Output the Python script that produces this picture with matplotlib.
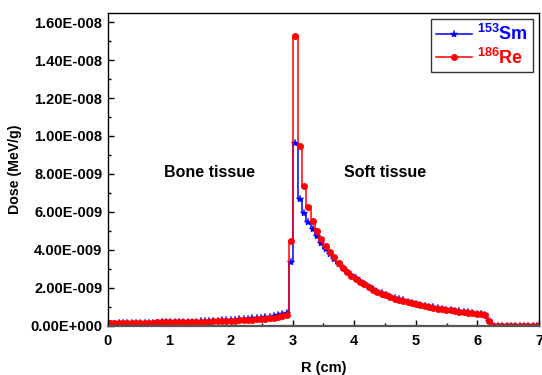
import numpy as np
import matplotlib
matplotlib.use('Agg')
import matplotlib.pyplot as plt
from matplotlib.ticker import FuncFormatter, MultipleLocator

plt.rcParams['font.family'] = ['Liberation Sans', 'DejaVu Sans']
plt.rcParams['font.weight'] = 'bold'
plt.rcParams['mathtext.fontset'] = 'custom'
plt.rcParams['mathtext.rm'] = 'Liberation Sans:bold'
plt.rcParams['mathtext.bf'] = 'Liberation Sans:bold'
plt.rcParams['mathtext.default'] = 'bf'

# 100 bins of 0.07 cm from 0 to 7 cm, dose in units of 1e-9 MeV/g
bin_width = 0.07
n_bins = 100

re_dose = [
    0.14, 0.14, 0.15, 0.15, 0.15, 0.16, 0.16, 0.16, 0.17, 0.17,
    0.17, 0.18, 0.18, 0.19, 0.19, 0.20, 0.20, 0.20, 0.21, 0.21,
    0.22, 0.22, 0.23, 0.23, 0.24, 0.25, 0.25, 0.26, 0.27, 0.28,
    0.29, 0.30, 0.31, 0.32, 0.34, 0.36, 0.38, 0.40, 0.43, 0.46,
    0.50, 0.55, 4.47, 15.26, 9.47, 7.38, 6.28, 5.53, 5.00, 4.56,
    4.23, 3.91, 3.61, 3.30, 3.04, 2.84, 2.64, 2.48, 2.33, 2.18,
    2.04, 1.91, 1.79, 1.69, 1.60, 1.51, 1.44, 1.38, 1.32, 1.26,
    1.20, 1.15, 1.10, 1.05, 1.00, 0.95, 0.91, 0.88, 0.84, 0.81,
    0.78, 0.75, 0.72, 0.69, 0.66, 0.63, 0.60, 0.57, 0.27, 0.0,
    0.0, 0.0, 0.0, 0.0, 0.0, 0.0, 0.0, 0.0, 0.0, 0.0,
]

sm_dose = [
    0.12, 0.12, 0.13, 0.13, 0.14, 0.14, 0.15, 0.15, 0.16, 0.16,
    0.17, 0.17, 0.18, 0.18, 0.19, 0.19, 0.20, 0.21, 0.21, 0.22,
    0.23, 0.24, 0.25, 0.26, 0.27, 0.28, 0.29, 0.30, 0.31, 0.33,
    0.34, 0.36, 0.37, 0.39, 0.41, 0.43, 0.45, 0.48, 0.51, 0.55,
    0.61, 0.70, 3.35, 9.65, 6.67, 5.96, 5.49, 5.10, 4.74, 4.38,
    4.05, 3.78, 3.52, 3.28, 3.05, 2.86, 2.67, 2.50, 2.35, 2.20,
    2.06, 1.93, 1.81, 1.71, 1.62, 1.53, 1.46, 1.40, 1.34, 1.28,
    1.22, 1.17, 1.12, 1.07, 1.02, 0.97, 0.93, 0.89, 0.86, 0.83,
    0.80, 0.77, 0.74, 0.71, 0.68, 0.65, 0.62, 0.59, 0.28, 0.0,
    0.0, 0.0, 0.0, 0.0, 0.0, 0.0, 0.0, 0.0, 0.0, 0.0,
]

r_centers = (np.arange(n_bins) + 0.5) * bin_width
re_dose = np.array(re_dose) * 1e-9
sm_dose = np.array(sm_dose) * 1e-9


def sci_fmt(v, pos):
    if v == 0:
        return '0.00E+000'
    e = int(np.floor(np.log10(abs(v))))
    m = v / 10**e
    sign = '+' if e >= 0 else '-'
    return f'{m:.2f}E{sign}{abs(e):03d}'


fig = plt.figure(figsize=(5.42, 3.75), dpi=100)
ax = fig.add_axes([0.199, 0.131, 0.7955, 0.834])

ax.plot(r_centers, sm_dose, drawstyle='steps-mid', color='#0000ff', lw=1.1,
        marker='*', markersize=6, markeredgewidth=0.3, label=r'$^{153}$Sm')
ax.plot(r_centers, re_dose, drawstyle='steps-mid', color='#ff0000', lw=1.1,
        marker='o', markersize=5, markeredgewidth=0, label=r'$^{186}$Re')

ax.set_xlim(0, 7)
ax.set_ylim(0, 1.647e-8)
ax.xaxis.set_major_locator(MultipleLocator(1))
ax.xaxis.set_minor_locator(MultipleLocator(0.5))
ax.yaxis.set_major_locator(MultipleLocator(2e-9))
ax.yaxis.set_minor_locator(MultipleLocator(1e-9))
ax.yaxis.set_major_formatter(FuncFormatter(sci_fmt))

ax.tick_params(which='both', direction='in', labelsize=10.5, width=1.0)
ax.tick_params(which='major', length=4)
ax.tick_params(which='minor', length=2.5)
ax.tick_params(axis='x', pad=6)
ax.tick_params(axis='y', pad=4)

for s in ['left', 'right', 'top']:
    ax.spines[s].set_color('black')
    ax.spines[s].set_linewidth(1.0)
ax.spines['bottom'].set_color('#555555')
ax.spines['bottom'].set_linewidth(1.6)

ax.set_xlabel('R (cm)', fontsize=10.5, fontweight='bold', labelpad=9)
ax.set_ylabel('Dose (MeV/g)', fontsize=10.2, fontweight='bold', labelpad=6)

ax.text(1.645, 8.1e-9, 'Bone tissue', fontsize=11.5, fontweight='bold',
        ha='center', va='center')
ax.text(4.50, 8.1e-9, 'Soft tissue', fontsize=11.5, fontweight='bold',
        ha='center', va='center')

leg = ax.legend(loc='upper right', fontsize=13, numpoints=1, handlelength=2.0,
                handletextpad=0.3, borderpad=0.25, labelspacing=0.2,
                borderaxespad=0.35, fancybox=False, framealpha=1,
                edgecolor='#333333')
leg.get_frame().set_linewidth(1.0)
for txt, c in zip(leg.get_texts(), ['#0000ff', '#ff0000']):
    txt.set_color(c)

fig.savefig('out.png', dpi=100)
